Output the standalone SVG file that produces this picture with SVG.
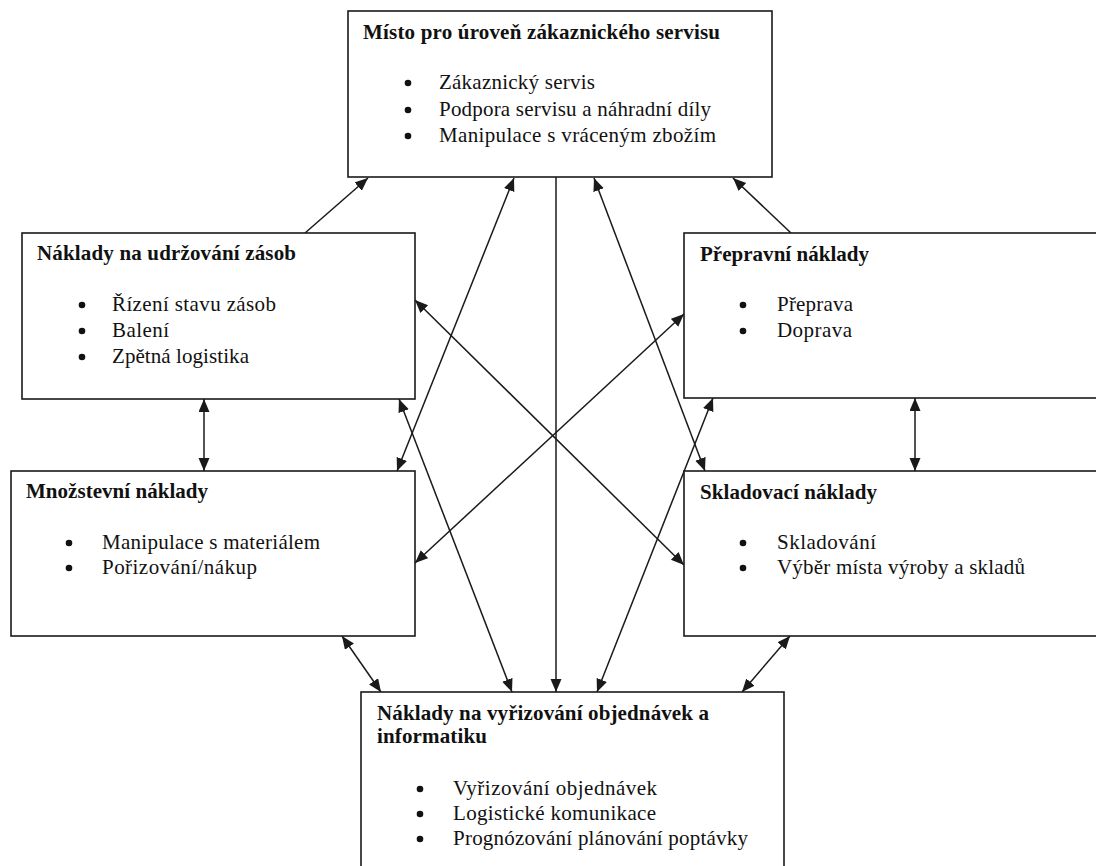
<svg xmlns="http://www.w3.org/2000/svg" width="1096" height="866" viewBox="0 0 1096 866">
  <style>
    .box { fill: #ffffff; stroke: #1a1a1a; stroke-width: 1.6; }
    .title { font-family: "Liberation Serif", "Times New Roman", serif; font-size: 21px; font-weight: bold; fill: #111; }
    .item { font-family: "Liberation Serif", "Times New Roman", serif; font-size: 21px; fill: #111; }
    .bullet { fill: #111; }
    .link { fill: none; stroke: #1a1a1a; stroke-width: 1.5; }
  </style>
  <defs>
    <marker id="arrow" markerUnits="userSpaceOnUse" markerWidth="14" markerHeight="12" refX="13" refY="5.5" orient="auto-start-reverse">
      <path d="M0,0 L13,5.5 L0,11 z" fill="#1a1a1a"/>
    </marker>
  </defs>

  <rect width="1096" height="866" fill="#ffffff"/>

  <!-- connectors -->
  <g id="connectors">
    <line class="link" x1="305" y1="233" x2="368" y2="178" marker-end="url(#arrow)"/>
    <line class="link" x1="791" y1="233" x2="733" y2="178" marker-end="url(#arrow)"/>
    <line class="link" x1="514" y1="178" x2="397" y2="471" marker-start="url(#arrow)" marker-end="url(#arrow)"/>
    <line class="link" x1="556" y1="177" x2="556" y2="692" marker-end="url(#arrow)"/>
    <line class="link" x1="594" y1="178" x2="705" y2="471" marker-start="url(#arrow)" marker-end="url(#arrow)"/>
    <line class="link" x1="415" y1="300" x2="684" y2="565" marker-start="url(#arrow)" marker-end="url(#arrow)"/>
    <line class="link" x1="684" y1="314" x2="415" y2="563" marker-start="url(#arrow)" marker-end="url(#arrow)"/>
    <line class="link" x1="399" y1="399" x2="512" y2="692" marker-start="url(#arrow)" marker-end="url(#arrow)"/>
    <line class="link" x1="713" y1="398" x2="597" y2="692" marker-start="url(#arrow)" marker-end="url(#arrow)"/>
    <line class="link" x1="204" y1="399" x2="204" y2="471" marker-start="url(#arrow)" marker-end="url(#arrow)"/>
    <line class="link" x1="915" y1="398" x2="915" y2="471" marker-start="url(#arrow)" marker-end="url(#arrow)"/>
    <line class="link" x1="342" y1="636" x2="381" y2="692" marker-start="url(#arrow)" marker-end="url(#arrow)"/>
    <line class="link" x1="790" y1="636" x2="742" y2="692" marker-start="url(#arrow)" marker-end="url(#arrow)"/>
  </g>

  <!-- customer service level -->
  <g id="node-servis">
    <rect class="box" x="348" y="11" width="424" height="166"/>
    <text class="title" x="363" y="39" textLength="357" lengthAdjust="spacing">Místo pro úroveň zákaznického servisu</text>
    <circle class="bullet" cx="408" cy="83" r="3.3"/>
    <circle class="bullet" cx="408" cy="110" r="3.3"/>
    <circle class="bullet" cx="408" cy="136" r="3.3"/>
    <text class="item" x="439" y="89" textLength="156" lengthAdjust="spacing">Zákaznický servis</text>
    <text class="item" x="439" y="116" textLength="272" lengthAdjust="spacing">Podpora servisu a náhradní díly</text>
    <text class="item" x="439" y="142" textLength="277" lengthAdjust="spacing">Manipulace s vráceným zbožím</text>
  </g>

  <!-- inventory carrying costs -->
  <g id="node-zasoby">
    <rect class="box" x="22" y="233" width="393" height="166"/>
    <text class="title" x="37" y="260" textLength="259" lengthAdjust="spacing">Náklady na udržování zásob</text>
    <circle class="bullet" cx="82" cy="305" r="3.3"/>
    <circle class="bullet" cx="82" cy="331" r="3.3"/>
    <circle class="bullet" cx="82" cy="357" r="3.3"/>
    <text class="item" x="112" y="311" textLength="164" lengthAdjust="spacing">Řízení stavu zásob</text>
    <text class="item" x="112" y="337" textLength="57" lengthAdjust="spacing">Balení</text>
    <text class="item" x="112" y="363" textLength="137" lengthAdjust="spacing">Zpětná logistika</text>
  </g>

  <!-- transport costs -->
  <g id="node-preprava">
    <rect class="box" x="684" y="233" width="420" height="165"/>
    <text class="title" x="700" y="261" textLength="169" lengthAdjust="spacing">Přepravní náklady</text>
    <circle class="bullet" cx="743" cy="305" r="3.3"/>
    <circle class="bullet" cx="743" cy="331" r="3.3"/>
    <text class="item" x="777" y="311" textLength="76" lengthAdjust="spacing">Přeprava</text>
    <text class="item" x="777" y="337" textLength="75" lengthAdjust="spacing">Doprava</text>
  </g>

  <!-- lot quantity costs -->
  <g id="node-mnozstvi">
    <rect class="box" x="11" y="471" width="404" height="165"/>
    <text class="title" x="26" y="498" textLength="182" lengthAdjust="spacing">Množstevní náklady</text>
    <circle class="bullet" cx="69" cy="543" r="3.3"/>
    <circle class="bullet" cx="69" cy="568" r="3.3"/>
    <text class="item" x="102" y="549" textLength="218" lengthAdjust="spacing">Manipulace s materiálem</text>
    <text class="item" x="102" y="574" textLength="155" lengthAdjust="spacing">Pořizování/nákup</text>
  </g>

  <!-- warehousing costs -->
  <g id="node-sklad">
    <rect class="box" x="684" y="471" width="420" height="165"/>
    <text class="title" x="700" y="499" textLength="177" lengthAdjust="spacing">Skladovací náklady</text>
    <circle class="bullet" cx="743" cy="543" r="3.3"/>
    <circle class="bullet" cx="743" cy="568" r="3.3"/>
    <text class="item" x="777" y="549" textLength="99" lengthAdjust="spacing">Skladování</text>
    <text class="item" x="777" y="574" textLength="248" lengthAdjust="spacing">Výběr místa výroby a skladů</text>
  </g>

  <!-- order processing and information costs -->
  <g id="node-objednavky">
    <rect class="box" x="361" y="692" width="423" height="190"/>
    <text class="title" x="377" y="720" textLength="332" lengthAdjust="spacing">Náklady na vyřizování objednávek a</text>
    <text class="title" x="377" y="743" textLength="110" lengthAdjust="spacing">informatiku</text>
    <circle class="bullet" cx="420" cy="789" r="3.3"/>
    <circle class="bullet" cx="420" cy="814" r="3.3"/>
    <circle class="bullet" cx="420" cy="839" r="3.3"/>
    <text class="item" x="453" y="795" textLength="204" lengthAdjust="spacing">Vyřizování objednávek</text>
    <text class="item" x="453" y="820" textLength="203" lengthAdjust="spacing">Logistické komunikace</text>
    <text class="item" x="453" y="845" textLength="295" lengthAdjust="spacing">Prognózování plánování poptávky</text>
  </g>
</svg>
